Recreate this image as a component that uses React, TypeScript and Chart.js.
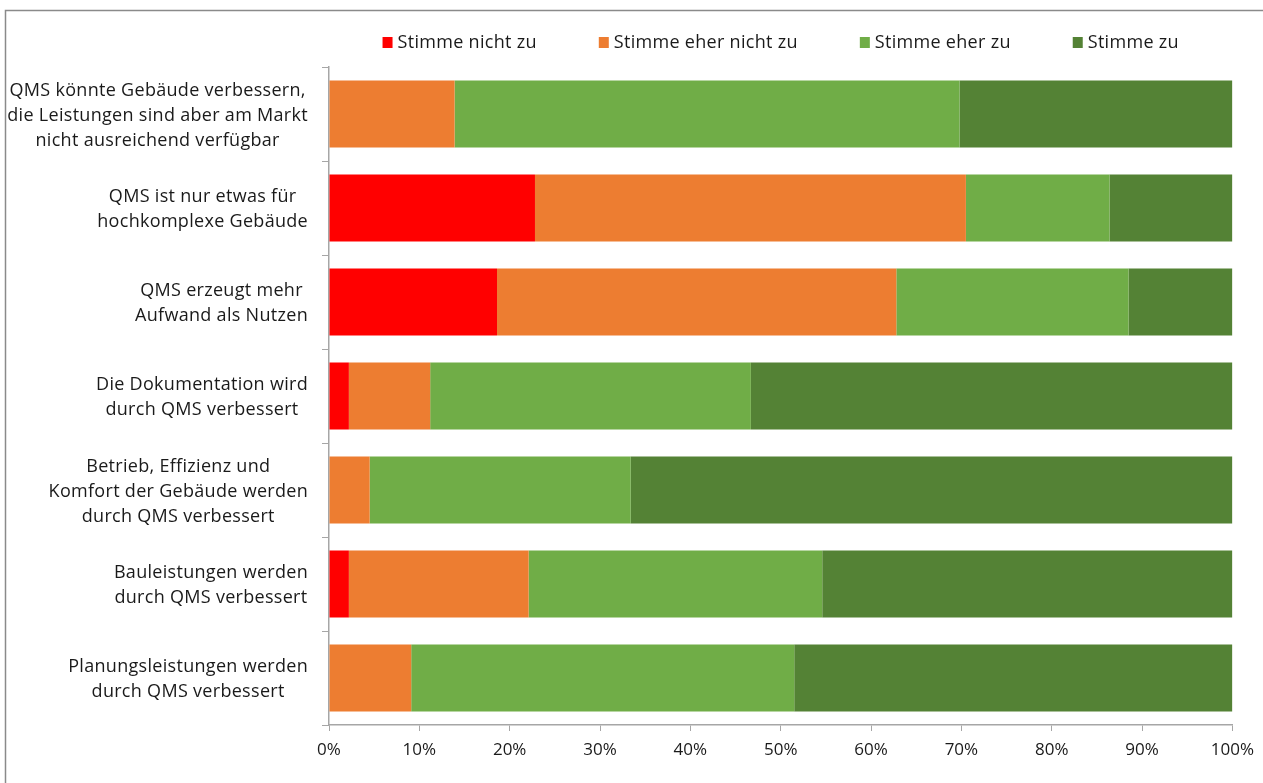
import React, { useEffect, useRef } from "react";
import { Chart, registerables } from "chart.js";

Chart.register(...registerables);

const categories: string[][] = [
  ["QMS könnte Gebäude verbessern,", "die Leistungen sind aber am Markt", "nicht ausreichend verfügbar"],
  ["QMS ist nur etwas für", "hochkomplexe Gebäude"],
  ["QMS erzeugt mehr", "Aufwand als Nutzen"],
  ["Die Dokumentation wird", "durch QMS verbessert"],
  ["Betrieb, Effizienz und", "Komfort der Gebäude werden", "durch QMS verbessert"],
  ["Bauleistungen werden", "durch QMS verbessert"],
  ["Planungsleistungen werden", "durch QMS verbessert"],
];

const seriesNames = ["Stimme nicht zu", "Stimme eher nicht zu", "Stimme eher zu", "Stimme zu"];
const stimmeNichtZu = [0, 22.8, 18.6, 2.2, 0, 2.2, 0];
const stimmeEherNichtZu = [13.9, 47.7, 44.2, 9.0, 4.5, 19.9, 9.1];
const stimmeEherZu = [55.9, 15.9, 25.7, 35.5, 28.9, 32.5, 42.4];
const stimmeZu = [30.2, 13.6, 11.5, 53.3, 66.6, 45.4, 48.5];
const colors = ["#FF0000", "#ED7D31", "#70AD47", "#548235"];

const FONT = "'Open Sans', 'Noto Sans', sans-serif";

const customPlugin = {
  id: "customDraw",
  beforeDraw(chart: any) {
    const ctx = chart.ctx;
    ctx.save();
    ctx.fillStyle = "#ffffff";
    ctx.fillRect(0, 0, chart.width, chart.height);
    ctx.strokeStyle = "#8a8a8a";
    ctx.lineWidth = 1.5;
    ctx.beginPath();
    ctx.moveTo(5.5, chart.height + 5);
    ctx.lineTo(5.5, 10.5);
    ctx.lineTo(chart.width + 5, 10.5);
    ctx.stroke();
    ctx.restore();
  },
  afterDraw(chart: any) {
    const ctx = chart.ctx;
    const y = chart.scales.y;
    ctx.save();
    ctx.font = `18px ${FONT}`;
    try {
      (ctx as any).letterSpacing = "0.3px";
    } catch (e) {}
    ctx.fillStyle = "#1a1a1a";
    ctx.textBaseline = "middle";
    ctx.textAlign = "center";
    const rightEdge = 308;
    const lh = 25;
    categories.forEach((lines, i) => {
      const cy = y.getPixelForValue(i) + 1.5;
      const w = Math.max(...lines.map((l) => ctx.measureText(l).width));
      const cx = rightEdge - w / 2;
      const start = cy - ((lines.length - 1) * lh) / 2;
      lines.forEach((l, j) => ctx.fillText(l, cx, start + j * lh));
    });
    // legend
    const box = 10;
    const gap = 5;
    const spacing = 62;
    const widths = seriesNames.map((n) => ctx.measureText(n).width);
    const total = widths.reduce((a, b) => a + b, 0) + seriesNames.length * (box + gap) + spacing * (seriesNames.length - 1);
    const area = chart.chartArea;
    let x = (area.left + area.right) / 2 - total / 2;
    const ly = 43;
    ctx.textAlign = "left";
    seriesNames.forEach((n, i) => {
      ctx.fillStyle = colors[i];
      ctx.fillRect(x, ly - box / 2 - 1, box, box + 1);
      ctx.fillStyle = "#1a1a1a";
      ctx.fillText(n, x + box + gap, ly);
      x += box + gap + widths[i] + spacing;
    });
    ctx.restore();
  },
};

export default function App() {
  const ref = useRef<HTMLCanvasElement>(null);
  useEffect(() => {
    if (!ref.current) return;
    const seriesValues = [stimmeNichtZu, stimmeEherNichtZu, stimmeEherZu, stimmeZu];
    const chart = new Chart(ref.current, {
      type: "bar",
      data: {
        labels: categories.map((c) => c.join(" ")),
        datasets: seriesNames.map((name, i) => ({
          label: name,
          data: seriesValues[i],
          backgroundColor: colors[i],
          borderWidth: 0,
          barPercentage: 0.713,
          categoryPercentage: 1,
        })),
      },
      options: {
        indexAxis: "y",
        animation: false,
        responsive: false,
        maintainAspectRatio: false,
        layout: { padding: { top: 67, right: 30, left: 0, bottom: 0 } },
        plugins: { legend: { display: false }, tooltip: { enabled: false } },
        scales: {
          x: {
            stacked: true,
            min: 0,
            max: 100,
            ticks: {
              stepSize: 10,
              callback: (v: any) => `${v}%`,
              font: { family: FONT, size: 17 },
              color: "#1a1a1a",
              padding: 9,
              maxRotation: 0,
            },
            grid: { drawOnChartArea: false, drawTicks: true, tickLength: 6, color: "#a6a6a6" },
            border: { display: true, color: "#a6a6a6", width: 1.5 },
            afterFit: (s: any) => {
              s.height = 58;
            },
          },
          y: {
            stacked: true,
            ticks: { display: false },
            grid: { drawOnChartArea: false, drawTicks: true, tickLength: 7, color: "#a6a6a6", offset: true },
            border: { display: true, color: "#a6a6a6", width: 1.5 },
            afterFit: (s: any) => {
              s.width = 329;
            },
          },
        },
      },
      plugins: [customPlugin],
    });
    return () => chart.destroy();
  }, []);
  return (
    <div style={{ position: "fixed", left: 0, top: 0, width: 1263, height: 783, background: "#fff" }}>
      <canvas ref={ref} width={1263} height={783} style={{ width: 1263, height: 783, display: "block" }} />
    </div>
  );
}
